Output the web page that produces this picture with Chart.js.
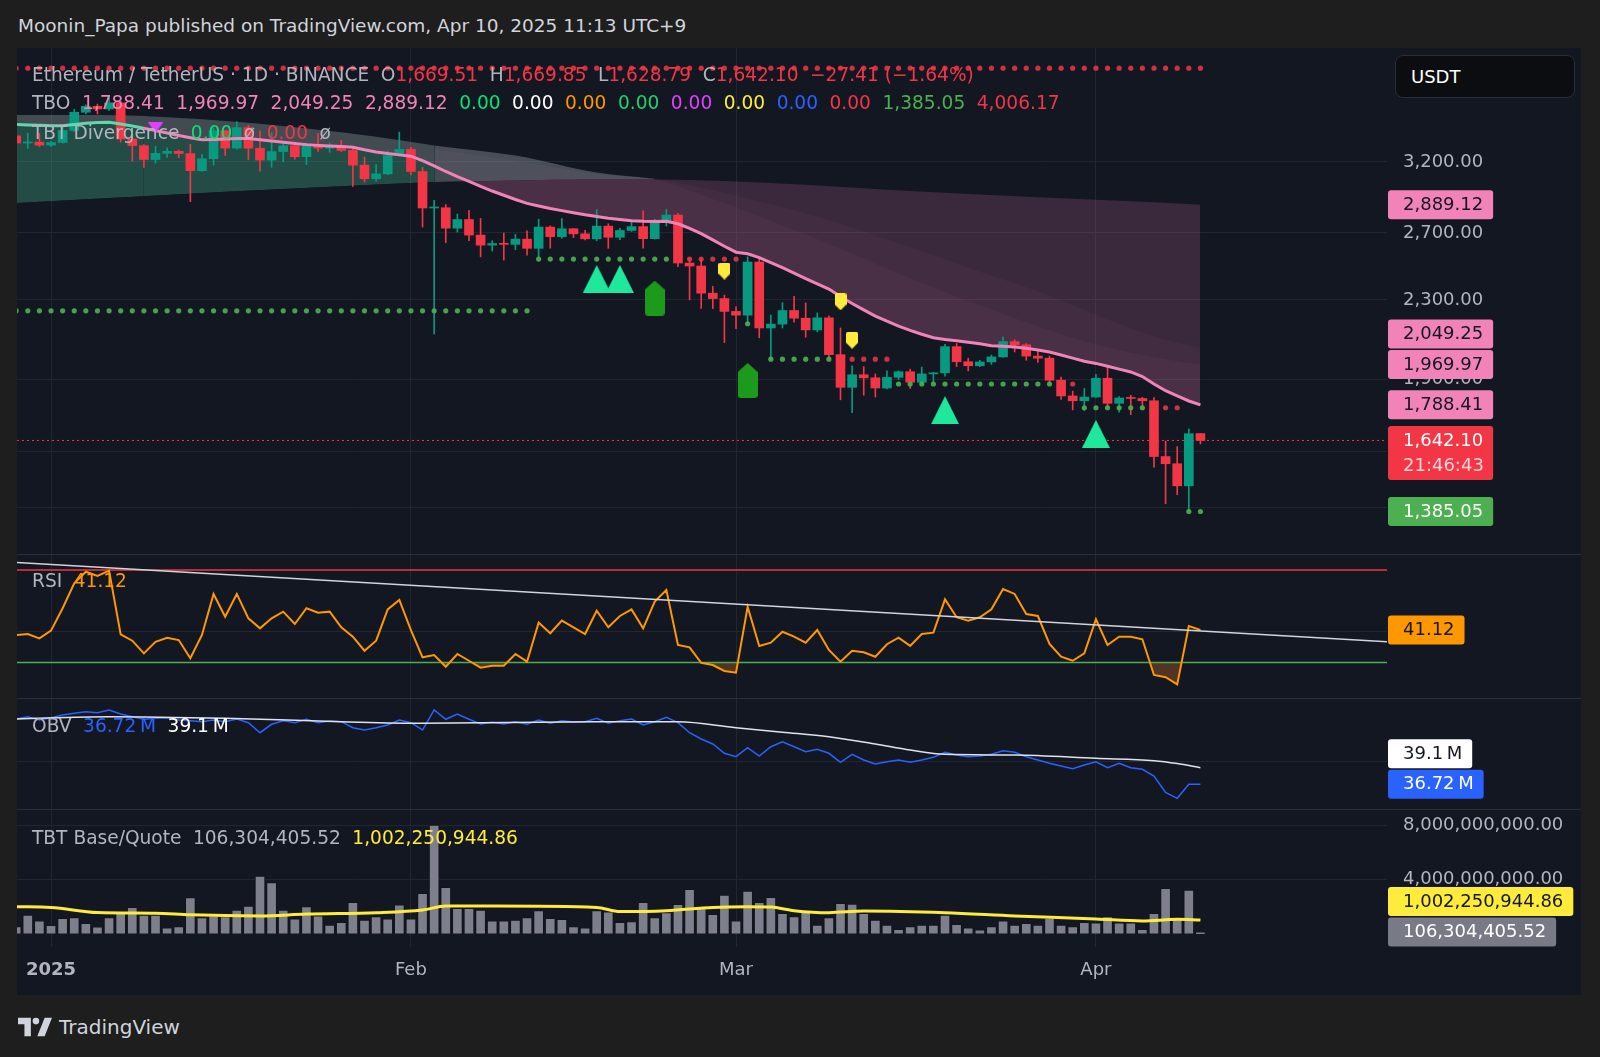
<!DOCTYPE html>
<html lang="en">
<head>
<meta charset="utf-8">
<title>Ethereum / TetherUS 1D</title>
<script src="https://cdn.jsdelivr.net/npm/chart.js@4.4.1/dist/chart.umd.min.js"></script>
<style>
html, body { margin: 0; padding: 0; background: #1e1e1e; }
body { width: 1600px; height: 1057px; position: relative; overflow: hidden; font-family: "DejaVu Sans", sans-serif; font-size: 18px; }
#head { position: absolute; left: 18px; top: 14px; line-height: 24px; color: #d1d4dc; white-space: nowrap; font-size: 18.5px; }
#frame { position: absolute; left: 17px; top: 48px; width: 1564px; height: 947px; background: #131722; overflow: hidden; }
#frame canvas { position: absolute; left: 0; }
.leg { position: absolute; left: 15px; line-height: 24px; white-space: nowrap; color: #b2b5be; font-size: 18.6px; }
.leg > span + span { margin-left: 11.5px; }
#usdt { position: absolute; left: 1378px; top: 7px; width: 180px; height: 43px; box-sizing: border-box; background: #0c0d10; border: 1px solid #2a2e39; border-radius: 8px; color: #ffffff; line-height: 41px; padding-left: 15px; }
#foot { position: absolute; left: 18px; top: 1014px; height: 26px; display: flex; align-items: center; color: #d1d4dc; font-size: 20px; }
#foot svg { margin-right: 7px; }
</style>
</head>
<body>
<div id="head">Moonin_Papa published on TradingView.com, Apr 10, 2025 11:13 UTC+9</div>

<div id="frame">
  <canvas id="cMain" width="1564" height="506" style="top:0px"></canvas>
  <canvas id="cRsi" width="1564" height="144" style="top:506px"></canvas>
  <canvas id="cObv" width="1564" height="111" style="top:650px"></canvas>
  <canvas id="cVol" width="1564" height="186" style="top:761px"></canvas>

  <div class="leg" style="top:15px"><span>Ethereum / TetherUS · 1D · BINANCE</span><span>O<span style="color:#f23645">1,669.51</span></span><span>H<span style="color:#f23645">1,669.85</span></span><span>L<span style="color:#f23645">1,628.79</span></span><span>C<span style="color:#f23645">1,642.10</span></span><span style="color:#f23645">−27.41 (−1.64%)</span></div>
  <div class="leg" style="top:43px"><span>TBO</span><span style="color:#f283b8">1,788.41</span><span style="color:#f283b8">1,969.97</span><span style="color:#f283b8">2,049.25</span><span style="color:#f283b8">2,889.12</span><span style="color:#00e676">0.00</span><span style="color:#ffffff">0.00</span><span style="color:#ff9800">0.00</span><span style="color:#1fd16b">0.00</span><span style="color:#e040fb">0.00</span><span style="color:#ffeb3b">0.00</span><span style="color:#2962ff">0.00</span><span style="color:#f23645">0.00</span><span style="color:#4caf50">1,385.05</span><span style="color:#f23645">4,006.17</span></div>
  <div class="leg" style="top:73px"><span>TBT Divergence</span><span style="color:#00e676">0.00</span><span>ø</span><span style="color:#f23645">0.00</span><span>ø</span></div>
  <div class="leg" style="top:521px"><span>RSI</span><span style="color:#ff9800">41.12</span></div>
  <div class="leg" style="top:666px"><span>OBV</span><span style="color:#2962ff">36.72&thinsp;M</span><span style="color:#ffffff">39.1&thinsp;M</span></div>
  <div class="leg" style="top:778px"><span>TBT Base/Quote</span><span>106,304,405.52</span><span style="color:#ffeb3b">1,002,250,944.86</span></div>

  <div id="usdt">USDT</div>
</div>

<div id="foot">
  <svg width="34" height="20" viewBox="0 0 37 20"><path d="M0 0H14V20H7V7H0Z" fill="#d1d4dc"/><circle cx="19.5" cy="3.6" r="3.6" fill="#d1d4dc"/><path d="M29 0H37L29 20H21Z" fill="#d1d4dc"/></svg>
  <span>TradingView</span>
</div>

<script>
// ---------- data ----------
// x = days counted from 2025-01-01, first candle is 2024-12-29
const firstDay = -3
const monthTicks = [0, 31, 59, 90]
const monthLabels = ["2025", "Feb", "Mar", "Apr"]

const opens = [3407, 3349, 3356,
  3332, 3353, 3451, 3605, 3657, 3634, 3687, 3381, 3328, 3219, 3267, 3283, 3265, 3134, 3225, 3449, 3308, 3475, 3307, 3215, 3281, 3327, 3241, 3339, 3308, 3318, 3290, 3176, 3074, 3110, 3250,
  3298, 3128, 2866, 2868, 2731, 2788, 2686, 2622, 2632, 2627, 2660, 2602, 2738, 2676, 2727, 2694, 2662, 2744, 2672, 2716, 2741, 2663, 2769, 2818, 2512, 2494, 2337, 2307,
  2237, 2217, 2518, 2150, 2170, 2242, 2201, 2140, 2203, 2017, 1865, 1922, 1908, 1862, 1910, 1936, 1888, 1926, 1931, 2056, 1983, 1964, 1982, 2006, 2081, 2065, 2010, 2000, 1897, 1827, 1806,
  1822, 1906, 1795, 1818, 1816, 1806, 1580, 1553, 1473, 1669.51]
const highs = [3427, 3429, 3427,
  3363, 3496, 3630, 3670, 3676, 3745, 3701, 3412, 3337, 3323, 3310, 3294, 3339, 3260, 3473, 3450, 3525, 3495, 3449, 3434, 3363, 3357, 3347, 3426, 3350, 3371, 3315, 3238, 3180, 3284, 3437,
  3315, 3160, 2919, 2890, 2825, 2850, 2795, 2650, 2699, 2690, 2713, 2790, 2746, 2795, 2730, 2716, 2855, 2760, 2729, 2775, 2846, 2790, 2856, 2830, 2540, 2538, 2375, 2326,
  2262, 2550, 2550, 2217, 2285, 2320, 2283, 2229, 2213, 2150, 1964, 1960, 1926, 1940, 1940, 1948, 1958, 1933, 2068, 2071, 2000, 1990, 2015, 2104, 2090, 2071, 2038, 2010, 1911, 1848, 1860,
  1924, 1956, 1824, 1830, 1821, 1820, 1640, 1618, 1688, 1669.85]
const lows = [3328, 3306, 3320,
  3321, 3348, 3442, 3590, 3590, 3620, 3356, 3207, 3159, 3190, 3236, 3233, 2910, 3128, 3176, 3251, 3300, 3219, 3130, 3160, 3201, 3222, 3180, 3283, 3275, 3281, 3018, 3050, 3055, 3104, 3247,
  3105, 2738, 2120, 2638, 2705, 2650, 2550, 2585, 2530, 2594, 2560, 2550, 2603, 2666, 2670, 2655, 2650, 2602, 2656, 2710, 2603, 2660, 2745, 2490, 2300, 2253, 2252, 2076,
  2147, 2172, 2100, 1993, 2150, 2180, 2103, 2130, 1998, 1810, 1755, 1830, 1822, 1858, 1900, 1860, 1880, 1888, 1915, 1960, 1940, 1960, 1970, 2004, 2030, 1990, 1980, 1880, 1812, 1767, 1765,
  1820, 1782, 1757, 1747, 1768, 1540, 1411, 1442, 1385, 1628.79]
const closes = [3349, 3356, 3332,
  3353, 3451, 3605, 3657, 3634, 3687, 3381, 3328, 3219, 3267, 3283, 3265, 3134, 3225, 3449, 3308, 3475, 3307, 3215, 3281, 3327, 3241, 3339, 3308, 3318, 3290, 3176, 3074, 3110, 3250, 3298,
  3128, 2866, 2868, 2731, 2788, 2686, 2622, 2632, 2627, 2660, 2602, 2738, 2676, 2727, 2694, 2662, 2744, 2672, 2716, 2741, 2663, 2769, 2818, 2512, 2494, 2337, 2307, 2237,
  2217, 2518, 2150, 2170, 2242, 2201, 2140, 2203, 2017, 1865, 1922, 1908, 1862, 1910, 1936, 1888, 1926, 1931, 2056, 1983, 1964, 1982, 2006, 2081, 2065, 2010, 2000, 1897, 1827, 1806, 1822,
  1906, 1795, 1818, 1816, 1806, 1580, 1553, 1473, 1669, 1642.10]

// TBO lines (fast line is drawn, the others only bound the clouds)
const tboFast = [3500, 3497, 3494,
  3491, 3490, 3500, 3512, 3518, 3520, 3505, 3488, 3470, 3450, 3430, 3410, 3392, 3375, 3378, 3382, 3386, 3385, 3375, 3365, 3355, 3345, 3336, 3330, 3326, 3322, 3315, 3295, 3278, 3265, 3255,
  3245, 3210, 3170, 3128, 3090, 3055, 3018, 2985, 2955, 2925, 2898, 2880, 2862, 2848, 2834, 2820, 2808, 2797, 2788, 2780, 2776, 2775, 2776, 2760, 2730, 2695, 2655, 2615,
  2578, 2568, 2545, 2515, 2485, 2452, 2420, 2390, 2360, 2318, 2280, 2245, 2212, 2185, 2160, 2138, 2118, 2100, 2092, 2085, 2078, 2070, 2060, 2058, 2054, 2048, 2040, 2030, 2015, 2000, 1985,
  1975, 1962, 1948, 1935, 1914, 1880, 1850, 1827, 1805, 1788.41]
const tboSlow = [[-3, 2900], [5, 2935], [15, 2980], [25, 3020], [33, 3050], [40, 3062], [47, 3068], [52, 3068],
  [58, 3058], [65, 3030], [72, 2995], [80, 2960], [88, 2930], [95, 2905], [99, 2889.12]]
const tboMid = [[-3, 3581], [4, 3581], [13, 3546], [22, 3468], [28, 3400], [33, 3330], [40, 3250], [47, 3120], [52, 3075],
  [56, 3010], [60, 2930], [64, 2850], [68, 2760], [72, 2660], [76, 2560], [80, 2460], [84, 2370], [88, 2270], [92, 2170], [96, 2090], [99, 2049.25]]
const tboMed = [[33, 3300], [40, 3210], [47, 3110], [52, 3068], [56, 2960], [60, 2840], [64, 2720], [68, 2600], [72, 2480], [76, 2370], [80, 2270], [84, 2180],
  [88, 2100], [92, 2040], [96, 1995], [99, 1969.97]]

// dotted support / resistance rows: [from day, to day, price]
const supportRuns = [[-3, 41, 2240], [42, 53, 2536], [60, 60, 2172], [62, 67, 1995], [73, 86, 1880], [89, 94, 1776], [98, 99, 1385.05]]
const resistRuns = [[54, 59, 2536], [61, 61, 2172], [68, 72, 1995], [87, 88, 1880], [95, 97, 1776], [-3, 99, 4006.17]]

// signal markers: [day, price]
const signalUp = [[47, 2418], [49, 2418], [77, 1766], [90, 1668]]
const buyFlags = [[52, 2310], [60, 1896]]
const sellFlags = [[58, 2464], [68, 2289], [69, 2088]]
const divDown = [[9, 3472]]

const lastPrice = 1642.10
const priceTicks = [1400, 1600, 1900, 2300, 2700, 3200]

const rsi = [37.9, 38.5, 35.7,
  40.7, 55.2, 71.4, 78.9, 76.1, 79.6, 38.3, 34.2, 26.0, 33.5, 36.1, 34.6, 22.8, 37.9, 64.5, 49.7, 64.5, 48.7, 42.2, 48.7, 53.0, 45.0, 55.2, 52.3, 53.0, 42.9, 36.8, 27.7, 34.2, 54.5, 60.6,
  41.1, 23.4, 24.9, 17.3, 25.6, 21.2, 16.7, 18.0, 18.0, 25.6, 20.6, 45.9, 39.0, 47.2, 42.9, 38.5, 53.6, 42.9, 50.2, 54.5, 42.2, 59.5, 67.0, 31.4, 29.9, 19.9, 18.4, 14.6,
  13.5, 56.2, 30.8, 32.9, 40.0, 36.8, 32.9, 41.1, 28.2, 20.6, 27.7, 26.7, 23.8, 31.9, 36.1, 30.8, 38.5, 39.4, 61.0, 49.4, 47.2, 49.4, 54.5, 67.7, 64.5, 51.5, 50.2, 32.1, 23.8, 21.2, 26.0,
  48.1, 31.4, 36.8, 36.8, 35.1, 12.0, 10.5, 5.9, 43.7, 41.12]
const rsiBands = [80, 20]
const rsiTrend = [[-2.93, 84.9], [115.07, 33.5]]

// OBV in millions
const obv = [46.09, 46.42, 45.94,
  46.28, 46.66, 46.91, 47.14, 47.0, 47.38, 46.81, 46.42, 46.05, 46.19, 46.28, 45.94, 45.85, 45.7, 45.94, 45.7, 46.09, 45.56, 44.12, 45.33, 45.85, 45.56, 46.05, 45.56, 45.8, 45.7, 44.84, 44.51, 44.84, 45.23, 45.94,
  45.56, 44.51, 47.38, 46.05, 46.81, 46.05, 45.37, 45.62, 45.37, 45.7, 45.33, 45.94, 45.47, 45.85, 45.66, 45.7, 46.19, 45.47, 45.85, 46.09, 45.23, 45.7, 46.33, 45.56, 44.12, 43.22, 42.5, 41.17,
  40.68, 41.97, 40.78, 42.11, 42.83, 42.11, 41.4, 41.74, 41.17, 39.88, 41.02, 40.21, 39.63, 39.96, 40.21, 39.88, 40.21, 40.59, 41.31, 40.92, 40.68, 40.78, 41.02, 41.54, 41.31, 40.68, 40.21, 39.73, 39.35, 38.96, 39.49,
  39.96, 39.1, 39.73, 39.1, 38.87, 37.91, 35.57, 34.71, 36.72, 36.72]
const obvMa = [[-3, 46.09], [5, 46.42], [15, 46.19], [25, 45.7], [32, 45.47], [47, 45.7], [54, 45.7], [59, 44.84], [63, 44.2],
  [67, 43.55], [71, 42.5], [74, 41.64], [77, 41.02], [83, 40.92], [90, 40.45], [95, 40.11], [97, 39.7], [99, 39.1]]

// base/quote volume in billions USDT
const volume = [0.51, 1.37, 0.93,
  0.61, 1.13, 1.17, 0.76, 0.49, 1.17, 1.61, 1.94, 1.37, 1.37, 0.43, 0.51, 2.65, 1.17, 1.30, 1.25, 1.74, 2.03, 4.24, 3.75, 1.74, 1.08, 1.98, 1.30, 0.63, 0.83, 2.30, 1.00, 1.25, 1.08, 2.11,
  1.08, 2.97, 8.00, 3.41, 1.86, 1.86, 1.74, 0.93, 0.93, 1.00, 1.17, 1.69, 1.13, 1.05, 0.51, 0.43, 1.69, 1.61, 0.83, 0.88, 2.30, 1.17, 1.54, 2.16, 3.26, 1.94, 1.42, 2.84,
  0.93, 3.14, 2.30, 2.67, 1.50, 1.25, 1.57, 0.63, 1.17, 2.23, 2.18, 1.50, 1.00, 0.63, 0.32, 0.51, 0.63, 0.63, 1.37, 0.68, 0.43, 0.27, 0.51, 0.93, 0.63, 0.76, 0.63, 1.13, 0.63, 0.51, 0.83,
  0.80, 1.25, 0.80, 0.80, 0.32, 1.50, 3.34, 1.17, 3.21, 0.106]
const volumeMa = [[-3, 1.98], [0, 1.93], [4, 1.55], [9, 1.50], [12, 1.38], [18, 1.30], [22, 1.44], [28, 1.54], [32, 1.74], [34, 2.03],
  [38, 2.03], [47, 1.93], [49, 1.62], [53, 1.69], [57, 1.93], [60, 1.98], [62, 1.95], [64, 1.69], [67, 1.54], [70, 1.66], [77, 1.54],
  [83, 1.30], [90, 1.08], [94, 0.93], [97, 1.05], [99, 1.0023]]
const volumeLast = 106304405.52
const volumeMaLast = 1002250944.86

// ---------- look ----------
const X_MIN = -2.93
const X_MAX = 115.07
const GRID = "#222632"
const AXIS_TXT = "#b2b5be"
const UP = "#089981"
const DOWN = "#f23645"
const PINK = "#f283b8"
const MINT = "#5fd8ad"
const TEAL = "rgba(70,190,150,0.32)"
const GRAY = "rgba(150,168,168,0.36)"
const MAUVE = "rgba(190,105,150,0.23)"
const MAUVE_2 = "rgba(190,105,150,0.06)"
const MAUVE_3 = "rgba(190,105,150,0.07)"

Chart.defaults.font.family = '"DejaVu Sans", sans-serif'
Chart.defaults.font.size = 18
Chart.defaults.color = AXIS_TXT

const days = opens.map((_, k) => firstDay + k)
const daily = arr => arr.map((v, k) => ({ x: days[k], y: v }))
const pairs = arr => arr.map(p => ({ x: p[0], y: p[1] }))
const runs = list => {
    const out = []
    list.forEach(([a, b, y]) => { for (let x = a; x <= b; x++) out.push({ x: x, y: y }) })
    return out
}
const fmt2 = v => v.toLocaleString("en-US", { minimumFractionDigits: 2, maximumFractionDigits: 2 })
const candleColor = c => closes[c.dataIndex] >= opens[c.dataIndex] ? UP : DOWN

function markerImage(w, h, color, path) {
    const c = document.createElement("canvas")
    c.width = w
    c.height = h
    const g = c.getContext("2d")
    g.fillStyle = color
    g.beginPath()
    path(g, w, h)
    g.closePath()
    g.fill()
    return c
}
const triUpImg = markerImage(28, 28, "#1ee89c", (g, w, h) => { g.moveTo(w / 2, 0); g.lineTo(w, h); g.lineTo(0, h) })
const triDownImg = markerImage(15, 11, "#e040fb", (g, w, h) => { g.moveTo(0, 0); g.lineTo(w, 0); g.lineTo(w / 2, h) })
const houseImg = markerImage(20, 35, "#1b9a1b", (g, w, h) => {
    g.moveTo(w / 2, 0); g.lineTo(w, 9); g.lineTo(w, h - 3); g.quadraticCurveTo(w, h, w - 3, h)
    g.lineTo(3, h); g.quadraticCurveTo(0, h, 0, h - 3); g.lineTo(0, 9)
})
const shieldImg = markerImage(12, 17, "#ffeb3b", (g, w, h) => {
    g.moveTo(2, 0); g.lineTo(w - 2, 0); g.quadraticCurveTo(w, 0, w, 2); g.lineTo(w, h - 6)
    g.lineTo(w / 2, h); g.lineTo(0, h - 6); g.lineTo(0, 2); g.quadraticCurveTo(0, 0, 2, 0)
})

// value boxes on the price scale, pushed up when they would overlap
const valueBoxes = {
    id: "valueBoxes",
    afterDraw(chart, args, opts) {
        const items = (opts && opts.items) || []
        if (!items.length) return
        const ctx = chart.ctx
        const area = chart.chartArea
        const ys = chart.scales.y
        const boxes = items.map(it => Object.assign({ h: it.sub ? 54 : 29, top: ys.getPixelForValue(it.value) - 14.5 }, it))
        boxes.sort((a, b) => b.top - a.top)
        let limit = Infinity
        boxes.forEach(b => {
            if (b.top + b.h > limit - 1.5) b.top = limit - 1.5 - b.h
            limit = b.top
        })
        ctx.save()
        ctx.font = '18px "DejaVu Sans", sans-serif'
        ctx.textBaseline = "middle"
        boxes.forEach(b => {
            const w = ctx.measureText(b.text).width + 25
            ctx.fillStyle = b.bg
            ctx.beginPath()
            ctx.roundRect(area.right + 1, b.top, w, b.h, 3)
            ctx.fill()
            ctx.fillStyle = b.fg
            ctx.fillText(b.text, area.right + 16, b.top + 15)
            if (b.sub) {
                ctx.fillStyle = "rgba(255,255,255,0.78)"
                ctx.fillText(b.sub, area.right + 16, b.top + 40)
            }
        })
        ctx.restore()
    }
}

// thin line between panes
const paneLine = {
    id: "paneLine",
    afterDraw(chart, args, opts) {
        if (!opts || !opts.top) return
        const ctx = chart.ctx
        ctx.save()
        ctx.strokeStyle = "#2a2e39"
        ctx.lineWidth = 1
        ctx.beginPath()
        ctx.moveTo(0, 0.5)
        ctx.lineTo(chart.width, 0.5)
        ctx.stroke()
        ctx.restore()
    }
}

function xScale(withLabels) {
    return {
        type: "linear", min: X_MIN, max: X_MAX, offset: false,
        afterBuildTicks: s => { s.ticks = monthTicks.map(v => ({ value: v })) },
        afterFit: s => { s.height = withLabels ? 48 : 0; s.paddingLeft = 0; s.paddingRight = 0 },
        grid: { color: GRID, drawTicks: false, offset: false },
        border: { display: false },
        ticks: {
            display: withLabels, padding: 13, maxRotation: 0, autoSkip: false, color: AXIS_TXT,
            callback: v => monthLabels[monthTicks.indexOf(v)],
            font: c => ({ size: 18, weight: c.tick && c.tick.value === 0 ? "bold" : "normal" })
        }
    }
}

function yScale(opts, tickValues, showLabels, labelFn) {
    return Object.assign({
        position: "right",
        afterBuildTicks: s => { s.ticks = tickValues.map(v => ({ value: v })) },
        afterFit: s => { s.width = 194; s.paddingTop = 0; s.paddingBottom = 0 },
        grid: { color: GRID, drawTicks: false },
        border: { display: false },
        ticks: { display: showLabels, padding: 16, autoSkip: false, color: AXIS_TXT, callback: labelFn || (v => fmt2(v)) }
    }, opts)
}

function baseOptions(scales, plugins) {
    return {
        responsive: false, animation: false, events: [],
        layout: { padding: 0, autoPadding: false },
        scales: scales,
        plugins: Object.assign({
            legend: { display: false }, tooltip: { enabled: false },
            filler: { drawTime: "beforeDatasetsDraw" }
        }, plugins)
    }
}

const hidden = { type: "line", borderWidth: 0, pointRadius: 0, cubicInterpolationMode: "monotone" }
const dots = (data, color) => ({
    type: "line", data: data, showLine: false, pointRadius: 2.6, pointBorderWidth: 0,
    pointBackgroundColor: color, order: 1
})
const marks = (data, img) => ({
    type: "line", data: pairs(data), showLine: false, pointStyle: img, pointRadius: 10, order: 0
})

// ---------- price pane ----------
new Chart(document.getElementById("cMain"), {
    type: "bar",
    data: {
        datasets: [
            Object.assign({ data: pairs(tboSlow.filter(p => p[0] <= 33)), fill: false, order: 20 }, hidden),                          // 0
            { type: "line", data: daily(tboFast), borderWidth: 3, borderColor: PINK, pointRadius: 0, order: 2,                       // 1
              segment: { borderColor: c => c.p0.parsed.x < 8 ? MINT : PINK },
              fill: { target: 0, above: TEAL, below: "transparent" } },
            Object.assign({ data: pairs(tboSlow.filter(p => p[0] >= 33)), order: 19,                                                 // 2
              fill: { target: 1, above: MAUVE, below: "transparent" } }, hidden),
            Object.assign({ data: pairs(tboMid.filter(p => p[0] >= 33)), order: 18,
              fill: { target: 1, above: MAUVE_2, below: "transparent" } }, hidden),
            Object.assign({ data: pairs(tboMed), order: 17,
              fill: { target: 1, above: MAUVE_3, below: "transparent" } }, hidden),
            Object.assign({ data: pairs(tboMid.filter(p => p[0] <= 33)), order: 16,
              fill: { target: 1, above: GRAY, below: "transparent" } }, hidden),
            Object.assign({ data: pairs(tboMid.filter(p => p[0] >= 33 && p[0] <= 52)), order: 15,
              fill: { target: 2, above: GRAY, below: "transparent" } }, hidden),
            { type: "line", data: [{ x: X_MIN, y: lastPrice }, { x: X_MAX, y: lastPrice }], borderColor: DOWN,
              borderWidth: 1, borderDash: [2, 3], pointRadius: 0, order: 6 },
            { type: "bar", data: days.map((x, k) => ({ x: x, y: [lows[k], highs[k]] })), grouped: false,
              barThickness: 1, backgroundColor: candleColor, order: 5 },
            { type: "bar", data: days.map((x, k) => ({ x: x, y: [opens[k], closes[k]] })), grouped: false,
              barThickness: 9, minBarLength: 1, backgroundColor: candleColor, order: 4 },
            dots(runs(supportRuns), "rgba(76,175,80,0.92)"),
            dots(runs(resistRuns), "rgba(242,54,69,0.85)"),
            marks(signalUp, triUpImg),
            marks(buyFlags, houseImg),
            marks(sellFlags, shieldImg),
            marks(divDown, triDownImg)
        ]
    },
    options: baseOptions({
        x: xScale(false),
        y: yScale({ type: "logarithmic", min: 1251, max: 4205 }, priceTicks, true)
    }, {
        valueBoxes: { items: [
            { value: 2889.12, text: "2,889.12", bg: PINK, fg: "#131722" },
            { value: 2049.25, text: "2,049.25", bg: PINK, fg: "#131722" },
            { value: 1969.97, text: "1,969.97", bg: PINK, fg: "#131722" },
            { value: 1788.41, text: "1,788.41", bg: PINK, fg: "#131722" },
            { value: lastPrice, text: "1,642.10", sub: "21:46:43", bg: DOWN, fg: "#ffffff" },
            { value: 1385.05, text: "1,385.05", bg: "#4caf50", fg: "#ffffff" }
        ] },
        paneLine: { top: false }
    }),
    plugins: [valueBoxes, paneLine]
})

// ---------- RSI pane ----------
new Chart(document.getElementById("cRsi"), {
    type: "line",
    data: {
        datasets: [
            { data: daily(rsi), borderColor: "#ff9800", borderWidth: 2, pointRadius: 0, order: 2,
              fill: { target: { value: rsiBands[1] }, above: "transparent", below: "rgba(180,95,40,0.40)" } },
            { data: [{ x: X_MIN, y: rsiBands[0] }, { x: X_MAX, y: rsiBands[0] }], borderColor: "#f23645", borderWidth: 1.5, pointRadius: 0, order: 3 },
            { data: [{ x: X_MIN, y: rsiBands[1] }, { x: X_MAX, y: rsiBands[1] }], borderColor: "#4caf50", borderWidth: 1.5, pointRadius: 0, order: 3 },
            { data: pairs(rsiTrend), borderColor: "#d1d4dc", borderWidth: 1.5, pointRadius: 0, order: 1 }
        ]
    },
    options: baseOptions({
        x: xScale(false),
        y: yScale({ type: "linear", min: -2.94, max: 90.37 }, [40], false)
    }, {
        valueBoxes: { items: [{ value: 41.12, text: "41.12", bg: "#ff9800", fg: "#131722" }] },
        paneLine: { top: true }
    }),
    plugins: [valueBoxes, paneLine]
})

// ---------- OBV pane ----------
new Chart(document.getElementById("cObv"), {
    type: "line",
    data: {
        datasets: [
            { data: daily(obv), borderColor: "#2962ff", borderWidth: 1.5, pointRadius: 0, order: 2 },
            { data: pairs(obvMa), borderColor: "#e0e3eb", borderWidth: 1.5, pointRadius: 0, order: 1, cubicInterpolationMode: "monotone" }
        ]
    },
    options: baseOptions({
        x: xScale(false),
        y: yScale({ type: "linear", min: 33.18, max: 49.10 }, [40], false)
    }, {
        valueBoxes: { items: [
            { value: 39.1, text: "39.1\u2009M", bg: "#ffffff", fg: "#131722" },
            { value: 36.72, text: "36.72\u2009M", bg: "#2962ff", fg: "#ffffff" }
        ] },
        paneLine: { top: true }
    }),
    plugins: [valueBoxes, paneLine]
})

// ---------- volume pane ----------
new Chart(document.getElementById("cVol"), {
    type: "bar",
    data: {
        datasets: [
            { type: "line", data: pairs(volumeMa), borderColor: "#ffeb3b", borderWidth: 3, pointRadius: 0, order: 1, cubicInterpolationMode: "monotone" },
            { type: "bar", data: daily(volume), grouped: false, barThickness: 10, backgroundColor: "#7d808c",
              borderColor: "#12141b", borderWidth: 1, borderSkipped: "bottom", order: 2 }
        ]
    },
    options: baseOptions({
        x: xScale(true),
        y: yScale({ type: "linear", min: -0.99, max: 9.18 }, [4, 8], true, v => fmt2(v * 1e9))
    }, {
        valueBoxes: { items: [
            { value: volumeMaLast / 1e9, text: fmt2(volumeMaLast), bg: "#ffeb3b", fg: "#131722" },
            { value: volumeLast / 1e9, text: fmt2(volumeLast), bg: "#787b86", fg: "#ffffff" }
        ] },
        paneLine: { top: true }
    }),
    plugins: [valueBoxes, paneLine]
})
</script>
</body>
</html>
